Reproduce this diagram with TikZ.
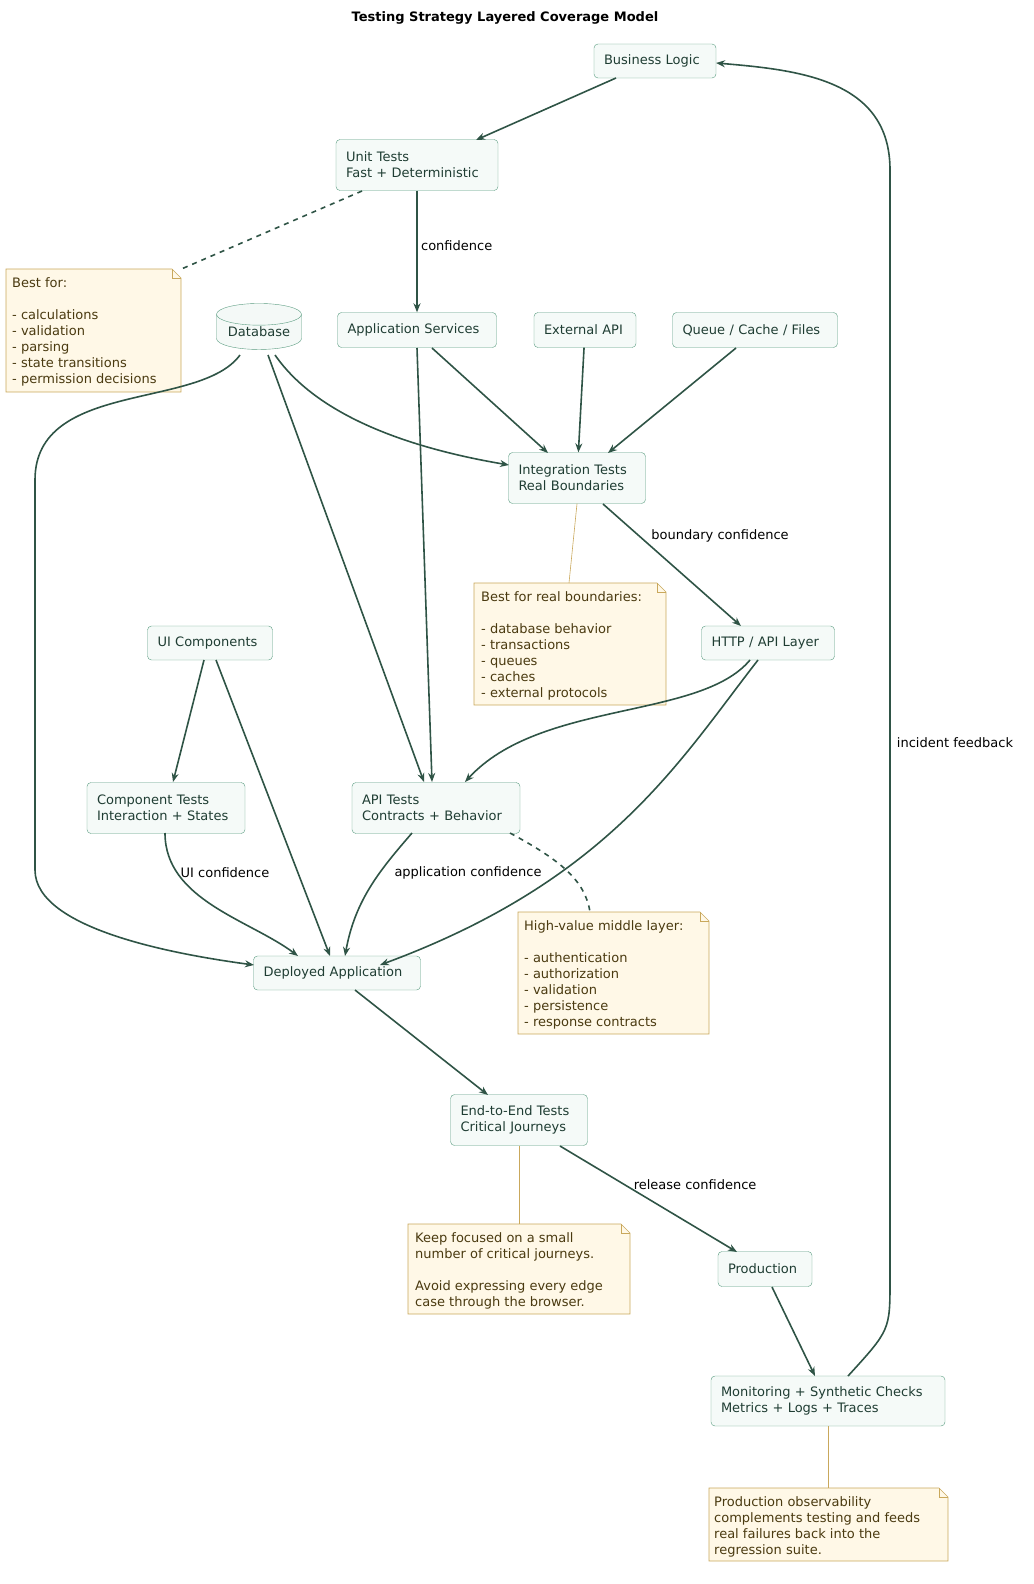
\documentclass[tikz,border=0pt]{standalone}
\usepackage{fontspec}
\setmainfont{DejaVu Sans}
\usetikzlibrary{shapes.geometric,arrows.meta,backgrounds}
\definecolor{edge}{HTML}{2F5446}
\definecolor{boxline}{HTML}{5A9C80}
\definecolor{boxfill}{HTML}{F5FAF8}
\definecolor{boxtext}{HTML}{1F3D33}
\definecolor{notefill}{HTML}{FFF8E7}
\definecolor{noteline}{HTML}{C9A85C}
\definecolor{notetext}{HTML}{4A3A10}
\tikzset{
  box/.style={draw=boxline, fill=boxfill, rounded corners=4pt, text=boxtext,
    align=left, inner xsep=10pt, inner ysep=0pt, font=\fontsize{13}{16}\selectfont},
  note/.style={anchor=north west, text=notetext, align=left, inner sep=0pt,
    font=\fontsize{13}{16}\selectfont},
  link/.style={edge, line width=1.6pt, -{Stealth[length=9pt,width=7pt]}},
  notelink/.style={noteline, line width=0.6pt},
  dashlink/.style={edge, line width=1.6pt, dashed, dash pattern=on 5pt off 5pt},
  lbl/.style={font=\fontsize{13}{16}\selectfont, text=black}
}
% folded note outline
\newcommand{\notebg}[4]{%
  \filldraw[fill=notefill, draw=noteline, line width=0.6pt]
    (#1,-#2) -- (#3-9,-#2) -- (#3,-#2-9) -- (#3,-#4) -- (#1,-#4) -- cycle;
  \draw[noteline, line width=0.6pt] (#3-9,-#2) -- (#3-9,-#2-9) -- (#3,-#2-9);}
\begin{document}
\begin{tikzpicture}[x=1pt, y=1pt]
  \useasboundingbox (0,0) rectangle (1033,-1584);
  \node[font=\bfseries\fontsize{13}{16}\selectfont] (title) at (505,-18) {Testing Strategy Layered Coverage Model};

  % boxes
  \node[box, minimum width=122, minimum height=34, text width=102] (logic) at (655,-61) {Business Logic};
  \node[box, minimum width=162, minimum height=51, text width=142] (unit) at (417,-165) {Unit Tests\\Fast + Deterministic};
  \node[box, minimum width=159, minimum height=35, text width=139] (appsvc) at (417,-330) {Application Services};
  \node[box, minimum width=102, minimum height=35, text width=82] (extapi) at (585,-330) {External API};
  \node[box, minimum width=165, minimum height=35, text width=145] (queue) at (755,-330) {Queue / Cache / Files};
  \node[cylinder, shape border rotate=90, aspect=0.35, draw=boxline, fill=boxfill!60!boxline!15,
    text=boxtext, minimum width=85, minimum height=46, inner sep=0pt,
    font=\fontsize{13}{16}\selectfont] (db) at (259,-332) {\raisebox{-4pt}{Database}};
  \node[box, minimum width=137, minimum height=51, text width=117] (integ) at (577,-478) {Integration Tests\\Real Boundaries};
  \node[box, minimum width=133, minimum height=34, text width=113] (http) at (768,-643) {HTTP / API Layer};
  \node[box, minimum width=125, minimum height=34, text width=105] (ui) at (210,-643) {UI Components};
  \node[box, minimum width=158, minimum height=51, text width=138] (comp) at (166,-808) {Component Tests\\Interaction + States};
  \node[box, minimum width=168, minimum height=51, text width=148] (apit) at (436,-808) {API Tests\\Contracts + Behavior};
  \node[box, minimum width=167, minimum height=34, text width=147] (deploy) at (337,-973) {Deployed Application};
  \node[box, minimum width=137, minimum height=51, text width=117] (e2e) at (519,-1120) {End-to-End Tests\\Critical Journeys};
  \node[box, minimum width=94, minimum height=35, text width=74] (prod) at (765,-1269) {Production};
  \node[box, minimum width=234, minimum height=50, text width=214] (mon) at (828,-1401) {Monitoring + Synthetic Checks\\Metrics + Logs + Traces};

  % notes
  \node[note, minimum width=175, minimum height=123] (nunit) at (6,-269) {};
  \node[note] at (12,-277) {Best for:\\[16pt]- calculations\\- validation\\- parsing\\- state transitions\\- permission decisions};
  \node[note, minimum width=192, minimum height=122] (ninteg) at (474,-583) {};
  \node[note] at (481,-591) {Best for real boundaries:\\[16pt]- database behavior\\- transactions\\- queues\\- caches\\- external protocols};
  \node[note, minimum width=191, minimum height=122] (napi) at (518,-912) {};
  \node[note] at (524,-920) {High-value middle layer:\\[16pt]- authentication\\- authorization\\- validation\\- persistence\\- response contracts};
  \node[note, minimum width=222, minimum height=90] (ne2e) at (408,-1224) {};
  \node[note] at (415,-1232) {Keep focused on a small\\number of critical journeys.\\[16pt]Avoid expressing every edge\\case through the browser.};
  \node[note, minimum width=239, minimum height=73] (nmon) at (709,-1488) {};
  \node[note] at (714,-1496) {Production observability\\complements testing and feeds\\real failures back into the\\regression suite.};
  \begin{scope}[on background layer]
    \notebg{6}{269}{181}{392}
    \notebg{474}{583}{666}{705}
    \notebg{518}{912}{709}{1034}
    \notebg{408}{1224}{630}{1314}
    \notebg{709}{1488}{948}{1561}
  \end{scope}

  % connectors
  \draw[link] (616,-78) -- (476,-140);
  \draw[link] (unit) -- node[lbl, right, pos=0.45] {confidence} (appsvc);
  \draw[dashlink] (362,-191) -- (nunit.north east);
  \draw[link] (275,-355) .. controls (320,-420) and (420,-450) .. (509,-465);
  \draw[link] (240,-355) .. controls (200,-410) and (35,-380) .. (35,-480)
    -- (35,-870) .. controls (35,-930) and (180,-955) .. (254,-965);
  \draw[link] (268,-355) -- (424,-782);
  \draw[link] (432,-348) -- (548,-453);
  \draw[link] (417,-348) -- (432,-782);
  \draw[link] (extapi) -- (integ);
  \draw[link] (736,-348) -- (608,-453);
  \draw[link] (603,-504) -- node[lbl, above right, pos=0.35, xshift=-4pt] {boundary confidence} (741,-626);
  \draw[notelink] (integ.south) -- (569,-583);
  \draw[link] (750,-660) .. controls (700,-720) and (540,-700) .. (465,-782);
  \draw[link] (758,-660) .. controls (680,-760) and (610,-880) .. (380,-965);
  \draw[link] (204,-660) -- (173,-782);
  \draw[link] (216,-660) -- (330,-956);
  \draw[link] (165,-833) .. controls (165,-900) and (250,-920) .. (298,-956);
  \node[lbl] (uilbl) at (225,-873) {UI confidence};
  \draw[link] (412,-833) .. controls (380,-870) and (355,-900) .. (345,-956);
  \node[lbl] (applbl) at (468,-873) {application confidence};
  \draw[dashlink] (510,-833) .. controls (560,-860) and (585,-880) .. (590,-912);
  \draw[link] (355,-990) -- (488,-1095);
  \draw[link] (560,-1146) -- node[lbl, above right, pos=0.45, xshift=-10pt] {release confidence} (737,-1252);
  \draw[notelink] (e2e.south) -- (ne2e.north -| e2e.south);
  \draw[link] (772,-1287) -- (815,-1376);
  \draw[link] (848,-1376) .. controls (890,-1330) and (890,-1330) .. (890,-1280)
    -- (890,-170) .. controls (890,-80) and (800,-70) .. (716,-63);
  \node[lbl] (inclbl) at (955,-743) {incident feedback};
  \draw[notelink] (mon.south) -- (nmon.north -| mon.south);
\end{tikzpicture}
\end{document}
